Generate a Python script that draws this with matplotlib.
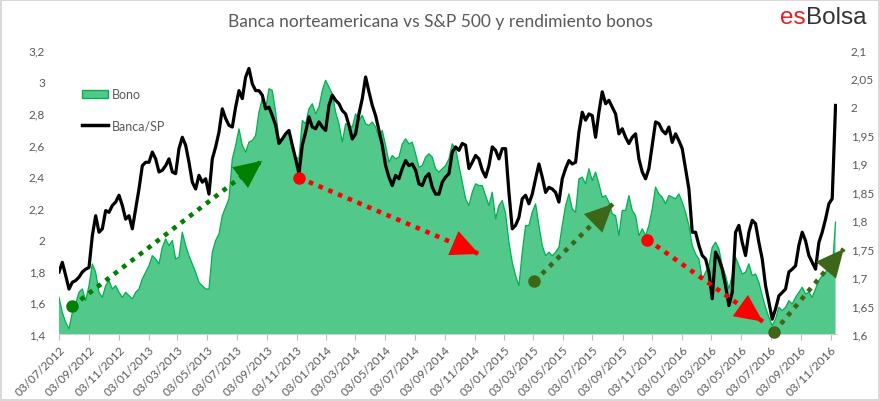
import matplotlib
matplotlib.use("Agg")
import matplotlib.pyplot as plt
import matplotlib.dates as mdates
from matplotlib.patches import Patch
from matplotlib.lines import Line2D
from matplotlib.ticker import FuncFormatter, FixedLocator
import numpy as np
import pandas as pd

plt.rcParams['font.family'] = ['Lato', 'DejaVu Sans']

# ---------------- data ----------------
start_date = '2012-07-03'
end_date = '2016-11-13'

# Bono (left axis)
bono = [
    1.632, 1.537, 1.474, 1.432, 1.537, 1.590, 1.664, 1.685, 1.611, 1.706,
    1.844, 1.791, 1.664, 1.632, 1.706, 1.738, 1.685, 1.706, 1.664, 1.632,
    1.664, 1.643, 1.622, 1.664, 1.685, 1.749, 1.791, 1.833, 1.896, 1.875,
    1.844, 1.949, 2.002, 1.960, 1.992, 1.875, 1.886, 2.044, 1.960, 1.896,
    1.844, 1.791, 1.727, 1.706, 1.685, 1.685, 1.918, 1.992, 2.034, 2.150,
    2.203, 2.256, 2.509, 2.594, 2.699, 2.594, 2.551, 2.615, 2.625,
    2.657, 2.805, 2.890, 2.826, 2.953, 2.942, 2.805, 2.636, 2.625, 2.657,
    2.689, 2.604, 2.520, 2.509, 2.752, 2.731, 2.826, 2.858, 2.794, 2.837,
    2.942, 3.006, 2.963, 2.921, 2.805, 2.731, 2.615, 2.731, 2.720, 2.710,
    2.794, 2.752, 2.784, 2.731, 2.720, 2.742, 2.710, 2.646, 2.689, 2.594,
    2.488, 2.530, 2.509, 2.520, 2.604, 2.636, 2.604, 2.615, 2.541, 2.456,
    2.467, 2.520, 2.541, 2.520, 2.446, 2.425, 2.446, 2.467, 2.509,
    2.604, 2.573, 2.467, 2.361, 2.256, 2.213, 2.298, 2.351, 2.340, 2.340,
    2.277, 2.213, 2.298, 2.129, 2.213, 2.245, 2.161, 1.981, 1.854, 1.770,
    1.706, 1.918, 2.087, 2.087, 2.171, 2.224, 2.087, 1.960, 1.896, 1.918,
    1.896, 1.918, 1.949, 2.087, 2.213, 2.287, 2.192, 2.171, 2.382, 2.393,
    2.351, 2.446, 2.372, 2.425, 2.351, 2.266, 2.277, 2.235, 2.161, 2.150,
    2.023, 2.182, 2.182, 2.277, 2.182, 2.150, 2.023, 2.066,
    2.023, 2.087, 2.192, 2.330, 2.287, 2.266, 2.224, 2.277, 2.266, 2.256,
    2.287, 2.235, 2.171, 2.087, 1.960, 1.907, 1.875, 1.749, 1.791, 1.833,
    1.949, 1.981, 1.939, 1.833, 1.770, 1.685, 1.770, 1.886, 1.833, 1.780,
    1.791, 1.844, 1.770, 1.780, 1.727, 1.643, 1.569, 1.506, 1.453, 1.495,
    1.569, 1.548, 1.569, 1.611, 1.590, 1.632, 1.664, 1.696, 1.654, 1.664,
    1.632, 1.685, 1.738, 1.770, 1.791, 1.823, 1.801, 2.108,
]

# Banca/SP (right axis)
banca = [
    1.709, 1.726, 1.703, 1.679, 1.691, 1.694, 1.700, 1.709, 1.714, 1.717,
    1.773, 1.808, 1.779, 1.785, 1.817, 1.814, 1.826, 1.832, 1.844, 1.826,
    1.802, 1.808, 1.785, 1.820, 1.855, 1.896, 1.902, 1.902, 1.920, 1.908,
    1.885, 1.888, 1.896, 1.908, 1.885, 1.882, 1.926, 1.946, 1.932, 1.902,
    1.867, 1.855, 1.879, 1.867, 1.873, 1.846, 1.908, 1.929, 1.955, 1.996,
    1.979, 1.967, 1.964, 1.999, 2.028, 2.014, 2.052, 2.067, 2.040,
    2.028, 2.028, 2.020, 1.996, 1.999, 1.984, 1.967, 1.935, 1.943, 1.952,
    1.958, 1.932, 1.908, 1.882, 1.932, 1.955, 1.982, 1.964, 1.961, 1.973,
    1.964, 1.958, 2.002, 2.020, 2.011, 2.005, 1.993, 1.987, 1.967, 1.943,
    1.952, 1.987, 2.014, 2.052, 2.026, 2.002, 1.984, 1.958, 1.932, 1.896,
    1.876, 1.861, 1.879, 1.873, 1.891, 1.905, 1.896, 1.899, 1.888, 1.864,
    1.861, 1.876, 1.882, 1.858, 1.846, 1.846, 1.867, 1.876, 1.882,
    1.920, 1.929, 1.923, 1.935, 1.932, 1.891, 1.902, 1.914, 1.908, 1.888,
    1.876, 1.896, 1.929, 1.923, 1.908, 1.926, 1.926, 1.849, 1.785, 1.791,
    1.805, 1.838, 1.844, 1.829, 1.846, 1.873, 1.899, 1.876, 1.849, 1.858,
    1.855, 1.849, 1.832, 1.873, 1.891, 1.905, 1.899, 1.902, 1.955, 1.990,
    1.976, 1.987, 1.984, 1.946, 1.990, 2.026, 2.005, 2.011, 1.999, 1.987,
    1.952, 1.961, 1.946, 1.935, 1.946, 1.952, 1.908, 1.885,
    1.873, 1.891, 1.932, 1.973, 1.970, 1.958, 1.952, 1.964, 1.937, 1.952,
    1.940, 1.926, 1.891, 1.855, 1.779, 1.779, 1.756, 1.738, 1.732, 1.709,
    1.662, 1.744, 1.732, 1.714, 1.685, 1.650, 1.673, 1.779, 1.791, 1.761,
    1.738, 1.779, 1.800, 1.794, 1.761, 1.732, 1.685, 1.656, 1.626, 1.644,
    1.667, 1.673, 1.679, 1.709, 1.714, 1.720, 1.756, 1.779, 1.764, 1.738,
    1.726, 1.714, 1.761, 1.779, 1.802, 1.829, 1.838, 2.002,
]

# trend arrows: (start date, start value, end date, end value, colour) in Bono units
arrow_start_dates = ['2012-07-30', '2013-11-08', '2015-03-06', '2015-10-24', '2016-07-10']
arrow_start_vals = [1.576, 2.389, 1.734, 1.998, 1.413]
arrow_end_dates = ['2013-08-24', '2014-11-12', '2015-08-14', '2016-06-17', '2016-11-30']
arrow_end_vals = [2.497, 1.907, 2.224, 1.478, 1.939]
arrow_colors = ['#008000', '#ff0000', '#3e6618', '#ff0000', '#3e6618']

title = 'Banca norteamericana vs S&P 500 y rendimiento bonos'

# ---------------- figure ----------------
W, H = 880, 402
fig = plt.figure(figsize=(W / 100, H / 100), dpi=100,
                 edgecolor='#d9d9d9', linewidth=1.5, facecolor='white')
ax = fig.add_axes([59 / W, 1 - 335 / H, (837 - 59) / W, (335 - 50.7) / H])
ax2 = ax.twinx()

dates_b = pd.date_range(start_date, end_date, periods=len(bono))
dates_s = pd.date_range(start_date, end_date, periods=len(banca))

fill_c = '#52c98a'
edge_c = '#00b050'
ax.fill_between(dates_b, 1.4, bono, facecolor=fill_c, edgecolor='none', zorder=1)
ax.plot(dates_b, bono, color=edge_c, lw=0.9, zorder=2)
ax2.plot(dates_s, banca, color='black', lw=2.3, solid_joinstyle='round', zorder=3)

ax.set_ylim(1.4, 3.2)
ax2.set_ylim(1.6, 2.1)
ax.set_xlim(pd.Timestamp('2012-07-03'), pd.Timestamp('2016-11-16'))

# ticks
tick_dates = pd.date_range(start='2012-07-03', periods=27, freq=pd.DateOffset(months=2))
ax.xaxis.set_major_locator(FixedLocator(mdates.date2num(tick_dates)))
ax.set_xticklabels([d.strftime('%d/%m/%Y') for d in tick_dates],
                   rotation=45, ha='right', rotation_mode='anchor')
ax.yaxis.set_major_locator(FixedLocator(np.round(np.arange(1.4, 3.21, 0.2), 2)))
ax2.yaxis.set_major_locator(FixedLocator(np.round(np.arange(1.6, 2.101, 0.05), 2)))
fmt = FuncFormatter(lambda v, p: ('%g' % round(v, 2)).replace('.', ','))
ax.yaxis.set_major_formatter(fmt)
ax2.yaxis.set_major_formatter(fmt)

tc = '#595959'
ax.tick_params(axis='x', colors='#bfbfbf', labelcolor=tc, labelsize=8.5,
               length=4, width=0.8, direction='out', pad=3)
ax.tick_params(axis='y', length=0, labelcolor=tc, labelsize=8.5, pad=10)
ax2.tick_params(axis='y', length=0, labelcolor=tc, labelsize=8.5, pad=10)
ax2.tick_params(axis='x', length=0)
for a in (ax, ax2):
    for s in ('top', 'left', 'right'):
        a.spines[s].set_visible(False)
ax.spines['bottom'].set_color('#d0d0d0')
ax.spines['bottom'].set_linewidth(0.8)
ax2.spines['bottom'].set_visible(False)

# trend arrows (drawn above everything, in Bono units)
for sd, sv, ed, ev, c in zip(arrow_start_dates, arrow_start_vals,
                             arrow_end_dates, arrow_end_vals, arrow_colors):
    x0 = mdates.date2num(pd.Timestamp(sd))
    x1 = mdates.date2num(pd.Timestamp(ed))
    ax2.plot([x0, x1], [sv, ev], transform=ax.transData, color=c, lw=3.3,
             linestyle=(0, (1, 1.3)), dash_capstyle='butt', zorder=5, clip_on=False)
    ax2.plot([x0], [sv], transform=ax.transData, marker='o', ms=8, color=c,
             zorder=6, clip_on=False)
    ax2.annotate('', xy=(x1, ev), xycoords=ax.transData,
                 xytext=(x0, sv), textcoords=ax.transData,
                 arrowprops=dict(arrowstyle='-|>,head_length=1.0,head_width=0.47',
                                 mutation_scale=20, color=c, lw=0,
                                 shrinkA=0, shrinkB=0),
                 zorder=7, annotation_clip=False)

# legend
handles = [Patch(facecolor=fill_c, edgecolor=edge_c, linewidth=1.0),
           Line2D([0], [0], color='black', lw=2.5)]
leg = fig.legend(handles, ['Bono', 'Banca/SP'], loc='upper left',
                 bbox_to_anchor=(82 / W, 1 - 89 / H), bbox_transform=fig.transFigure,
                 frameon=False, fontsize=9, handlelength=2.1, handleheight=0.6,
                 handletextpad=0.25, labelspacing=1.55, borderpad=0, borderaxespad=0,
                 labelcolor=tc)

# title and logo
fig.text(440 / W, 1 - 22 / H, title, ha='center', va='center', fontsize=12.5, color=tc)
fig.text(806 / W, 1 - 24 / H, 'es', ha='right', va='baseline', fontsize=17.5,
         color='#e0202a', family=['Liberation Sans', 'DejaVu Sans'])
fig.text(806 / W, 1 - 24 / H, 'Bolsa', ha='left', va='baseline', fontsize=17.5,
         color='#333333', family=['Liberation Sans', 'DejaVu Sans'])

fig.savefig('out.png', dpi=100, facecolor='white', edgecolor='#d9d9d9')
